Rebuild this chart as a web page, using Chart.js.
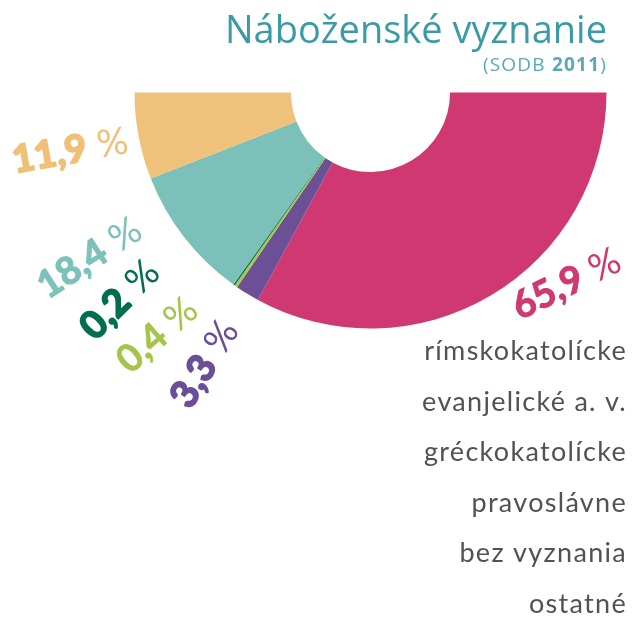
<!DOCTYPE html>
<html>
<head>
<meta charset="utf-8">
<script src="https://cdn.jsdelivr.net/npm/chart.js@4"></script>
<style>
  html, body { margin: 0; padding: 0; background: #ffffff; }
  canvas { display: block; }
</style>
</head>
<body>
<canvas id="c" width="632" height="627"></canvas>
<script>
// ---- data ----
const categories = ['rímskokatolícke', 'evanjelické a. v.', 'gréckokatolícke', 'pravoslávne', 'bez vyznania', 'ostatné'];
const shares = [65.9, 3.3, 0.4, 0.2, 18.4, 11.9];
const shareLabels = ['65,9', '3,3', '0,4', '0,2', '18,4', '11,9'];
const titleText = 'Náboženské vyznanie';
const sourceText = 'SODB';
const sourceYear = '2011';

// ---- styles ----
const sliceColors = ['#d03872', '#6b5096', '#a7c64b', '#00704f', '#7cc0ba', '#efc17b'];
const labelColors = ['#d03872', '#6a4f98', '#a3c64a', '#006f4f', '#7cc2bb', '#f0c078'];
// label placement: polar position relative to the arc centre (deg, px), text rotation (deg), extra stroke weight
const labelLayout = [
  { ang: 44.3, r: 274, rot: -26, extra: 1.0 },
  { ang: 121.4, r: 318, rot: -58, extra: 1.8 },
  { ang: 131.3, r: 323, rot: -41, extra: 0.6 },
  { ang: 140.4, r: 325, rot: -45, extra: 1.8 },
  { ang: 149.5, r: 326, rot: -33, extra: 1.2 },
  { ang: 169.0, r: 306, rot: -10, extra: 2.0 }
];

const overlay = {
  id: 'overlay',
  afterDraw(chart) {
    const ctx = chart.ctx;
    const meta = chart.getDatasetMeta(0);
    const arc0 = meta.data[0];
    const cx = arc0.x, cy = arc0.y;

    // percentage labels
    meta.data.forEach((arc, i) => {
      const L = labelLayout[i];
      const a = L.ang * Math.PI / 180;
      const x = cx + Math.cos(a) * L.r;
      const y = cy + Math.sin(a) * L.r;
      ctx.save();
      ctx.translate(x, y);
      ctx.rotate(L.rot * Math.PI / 180);
      ctx.fillStyle = labelColors[i];
      ctx.strokeStyle = labelColors[i];
      ctx.lineJoin = 'round';
      ctx.textBaseline = 'middle';
      ctx.textAlign = 'left';
      const numFont = '700 38px Lato';
      const pctFont = '400 38px Lato';
      ctx.font = numFont;
      const w1 = ctx.measureText(shareLabels[i] + ' ').width + L.extra;
      ctx.font = pctFont;
      const w2 = ctx.measureText('%').width;
      const start = -(w1 + w2) / 2;
      ctx.font = numFont;
      ctx.fillText(shareLabels[i] + ' ', start, 0);
      ctx.lineWidth = L.extra;
      ctx.strokeText(shareLabels[i], start, 0);
      ctx.font = pctFont;
      ctx.fillText('%', start + w1, 0);
      ctx.restore();
    });

    // title
    ctx.save();
    ctx.fillStyle = '#3b9aa5';
    ctx.textAlign = 'right';
    ctx.textBaseline = 'alphabetic';
    ctx.font = '400 38px "Open Sans"';
    ctx.fillText(titleText, 607, 43);

    // subtitle (SODB 2011)
    ctx.fillStyle = '#5aaab4';
    if ('letterSpacing' in ctx) ctx.letterSpacing = '1.2px';
    const right = 607;
    ctx.font = '400 19px "Open Sans"';
    const wClose = ctx.measureText(')').width;
    ctx.font = '700 19px "Open Sans"';
    const wYear = ctx.measureText(sourceYear).width;
    ctx.font = '400 19px "Open Sans"';
    const wOpen = ctx.measureText('(' + sourceText + ' ').width;
    let x = right - wClose - wYear - wOpen;
    ctx.textAlign = 'left';
    ctx.fillText('(' + sourceText + ' ', x, 71);
    x += wOpen;
    ctx.font = '700 19px "Open Sans"';
    ctx.fillText(sourceYear, x, 71);
    x += wYear;
    ctx.font = '400 19px "Open Sans"';
    ctx.fillText(')', x, 71);
    ctx.restore();

    // legend text
    ctx.save();
    ctx.fillStyle = '#525252';
    ctx.textAlign = 'right';
    ctx.textBaseline = 'alphabetic';
    ctx.font = '400 27px Lato';
    if ('letterSpacing' in ctx) ctx.letterSpacing = '1.3px';
    chart.data.labels.forEach((lab, i) => {
      ctx.fillText(lab, 627, 360 + i * 50.6);
    });
    ctx.restore();
  }
};

new Chart(document.getElementById('c'), {
  type: 'doughnut',
  data: {
    labels: categories,
    datasets: [{
      data: shares,
      backgroundColor: sliceColors,
      borderWidth: 0,
      hoverOffset: 0
    }]
  },
  options: {
    responsive: false,
    animation: false,
    rotation: 90,
    circumference: 180,
    cutout: '33.7%',
    layout: { padding: { left: 134.5, right: 25.5, top: 92.5, bottom: 298.5 } },
    plugins: {
      legend: { display: false },
      tooltip: { enabled: false },
      title: { display: false }
    }
  },
  plugins: [overlay]
});
</script>
</body>
</html>
